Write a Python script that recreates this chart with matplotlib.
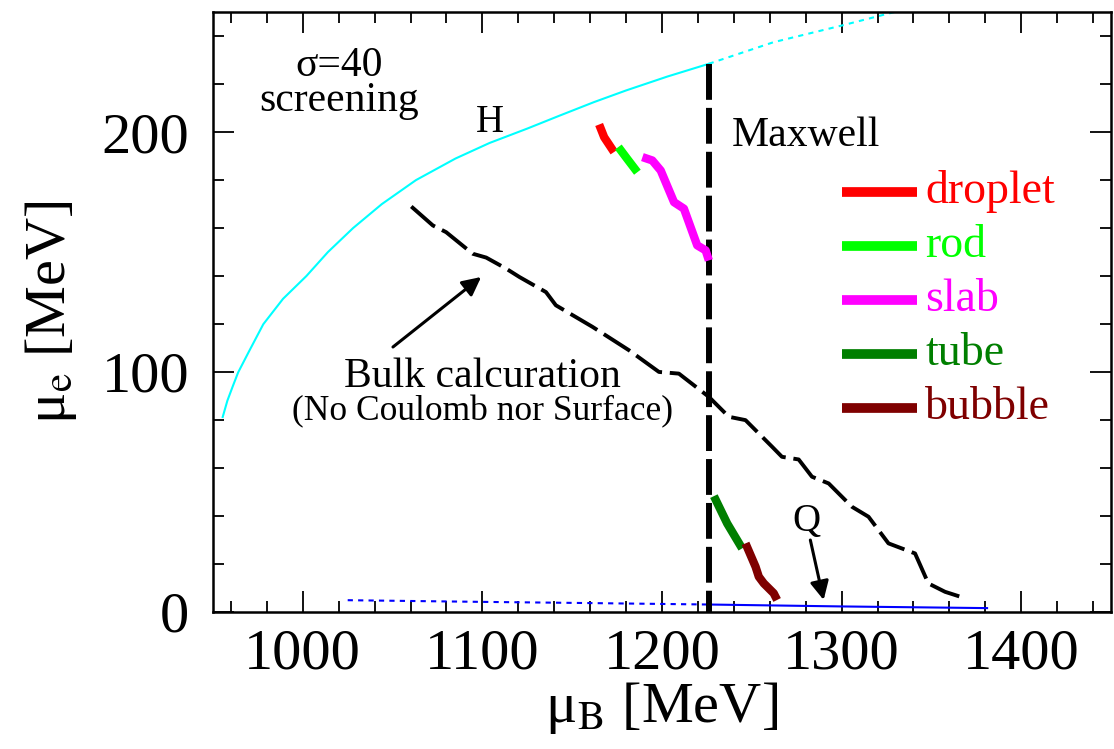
import matplotlib
matplotlib.use("Agg")
import matplotlib.pyplot as plt
from matplotlib.ticker import MultipleLocator

plt.rcParams['font.family'] = ['Liberation Serif', 'DejaVu Serif']
plt.rcParams['mathtext.fontset'] = 'stix'

# hadron branch (cyan): solid up to Maxwell point, dotted beyond
h_mu_b = [955.4, 958.0, 961.0, 964.0, 970.0, 978.0, 989.0, 1002.0, 1014.0, 1028.0,
          1044.0, 1063.0, 1085.0, 1104.0, 1125.0, 1143.0, 1162.0, 1180.0, 1203.0, 1226.0]
h_mu_e = [81.2, 88.0, 94.0, 99.8, 108.5, 119.9, 130.5, 140.0, 150.0, 160.0,
          170.0, 180.0, 189.0, 195.5, 201.5, 206.9, 212.5, 217.4, 223.2, 228.5]
h_ext_mu_b = [1226.0, 1262.0, 1300.2, 1327.8, 1345.0]
h_ext_mu_e = [228.5, 237.5, 244.5, 249.8, 253.0]

# quark branch (blue)
q_ext_mu_b = [1025.0, 1100.0, 1160.0, 1226.0]
q_ext_mu_e = [4.8, 4.1, 3.6, 3.0]
q_mu_b = [1226.0, 1300.0, 1381.0]
q_mu_e = [3.0, 2.2, 1.5]

# bulk calculation (no Coulomb, no surface)
bulk_mu_b = [1060.4, 1072.4, 1079.8, 1094.6, 1102.1, 1113.2, 1120.6, 1135.4, 1140.9,
             1161.3, 1181.7, 1198.3, 1209.4, 1226.1, 1237.2, 1246.5, 1261.3, 1266.8,
             1276.1, 1283.5, 1292.8, 1305.7, 1315.0, 1326.1, 1340.9, 1348.3, 1357.6, 1365.9]
bulk_mu_e = [169.0, 161.1, 158.3, 149.3, 147.7, 143.1, 139.6, 133.3, 127.8,
             118.8, 109.0, 100.0, 99.3, 89.6, 81.3, 79.9, 68.8, 64.6,
             63.5, 56.3, 53.5, 43.8, 39.6, 28.5, 24.3, 11.8, 8.3, 6.3]

maxwell_mu_b = 1226.0
maxwell_top = 228.5

# pasta structures
droplet_mu_b = [1165.0, 1167.8, 1173.3]
droplet_mu_e = [203.2, 197.9, 191.7]
rod_mu_b = [1175.7, 1180.5, 1186.3]
rod_mu_e = [193.8, 189.0, 183.3]
slab_mu_b = [1189.1, 1194.6, 1199.3, 1206.7, 1212.2, 1219.6, 1224.3, 1226.1]
slab_mu_e = [189.6, 188.2, 184.0, 170.8, 168.1, 152.8, 150.7, 146.5]
tube_mu_b = [1228.9, 1236.3, 1244.6]
tube_mu_e = [48.2, 36.8, 26.4]
bubble_mu_b = [1246.5, 1252.1, 1253.9, 1256.7, 1262.2, 1264.1]
bubble_mu_e = [28.5, 18.75, 14.6, 11.8, 7.7, 4.9]

pasta_names = ['droplet', 'rod', 'slab', 'tube', 'bubble']
pasta_colors = ['#ff0000', '#00ff00', '#ff00ff', '#007f00', '#7f0000']

fig = plt.figure(figsize=(11.14, 7.49), dpi=100)
ax = fig.add_axes([0.1912, 0.1833, 0.8061, 0.8003])

ax.plot(h_mu_b, h_mu_e, color='#00ffff', lw=1.5)
ax.plot(h_ext_mu_b, h_ext_mu_e, color='#00ffff', lw=1.5, ls=(0, (2.5, 2.5)))
ax.plot(q_ext_mu_b, q_ext_mu_e, color='#0000ff', lw=1.5, ls=(0, (2.5, 2.5)))
ax.plot(q_mu_b, q_mu_e, color='#0000ff', lw=1.5)

ax.plot(bulk_mu_b, bulk_mu_e, color='black', lw=2.8, ls=(0, (8, 2)))
ax.plot([maxwell_mu_b, maxwell_mu_b], [maxwell_top, 0], color='black', lw=4.3,
        ls=(0, (6, 1.35)))

pasta = [(droplet_mu_b, droplet_mu_e), (rod_mu_b, rod_mu_e), (slab_mu_b, slab_mu_e),
         (tube_mu_b, tube_mu_e), (bubble_mu_b, bubble_mu_e)]
for (xs, ys), c in zip(pasta, pasta_colors):
    ax.plot(xs, ys, color=c, lw=6, solid_capstyle='butt', zorder=4)

# hand-made legend
for i, (name, c) in enumerate(zip(pasta_names, pasta_colors)):
    yy = 0.7007 - i * 0.0903
    ax.plot([0.701, 0.784], [yy, yy], color=c, lw=7, solid_capstyle='butt',
            transform=ax.transAxes)
    ax.text(0.793, yy, name, color=c, fontsize=33, va='center', ha='left',
            transform=ax.transAxes)

ax.text(1020, 227.8, 'σ=40', fontsize=30, ha='center', va='center')
ax.text(1020, 213.2, 'screening', fontsize=30, ha='center', va='center')
ax.text(1103.9, 204, 'H', fontsize=28, ha='center', va='center')
ax.text(1280.3, 198.6, 'Maxwell', fontsize=30, ha='center', va='center')
ax.text(1100.3, 98.2, 'Bulk calcuration', fontsize=30, ha='center', va='center')
ax.text(1100, 83.6, '(No Coulomb nor Surface)', fontsize=25.5, ha='center', va='center')
ax.text(1280.6, 37.8, 'Q', fontsize=28, ha='center', va='center')

arrow = dict(arrowstyle='-|>', color='black', lw=2.2, mutation_scale=28,
             shrinkA=0, shrinkB=0)
ax.annotate('', xy=(1099.3, 139.6), xytext=(1050.2, 110.4), arrowprops=arrow)
ax.annotate('', xy=(1290.0, 4.9), xytext=(1282.6, 29.9), arrowprops=arrow)

ax.set_xlim(950, 1450)
ax.set_ylim(0, 250)
ax.xaxis.set_major_locator(MultipleLocator(100))
ax.xaxis.set_minor_locator(MultipleLocator(20))
ax.yaxis.set_major_locator(MultipleLocator(100))
ax.yaxis.set_minor_locator(MultipleLocator(20))
ax.tick_params(which='both', direction='in', top=True, right=True, width=1.3,
               labelsize=42)
ax.tick_params(which='major', length=15)
ax.tick_params(axis='x', which='major', pad=12)
ax.tick_params(axis='y', which='major', pad=17)
ax.tick_params(which='minor', length=8)
for s in ax.spines.values():
    s.set_linewidth(1.8)

ax.set_xlabel(r'μ$_{\mathrm{B}}$ [MeV]', fontsize=42, labelpad=0)
ax.set_ylabel(r'μ$_{\mathrm{e}}$ [MeV]', fontsize=42, labelpad=16)

fig.savefig('out.png', dpi=100)
